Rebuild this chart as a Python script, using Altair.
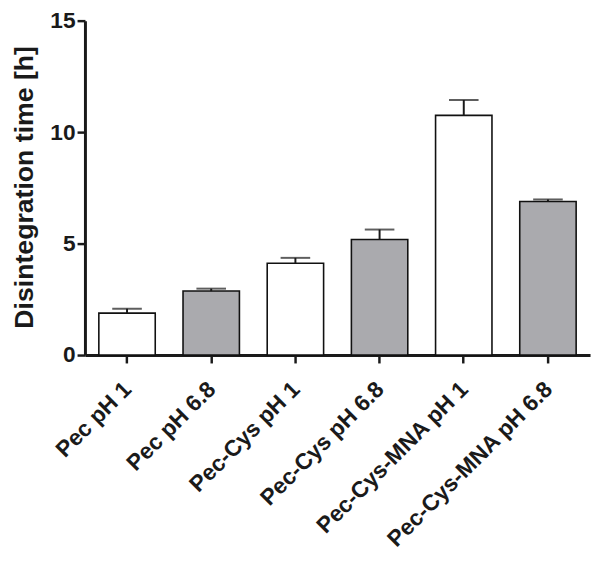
import altair as alt
import pandas as pd

categories = ["Pec pH 1", "Pec pH 6.8", "Pec-Cys pH 1", "Pec-Cys pH 6.8",
              "Pec-Cys-MNA pH 1", "Pec-Cys-MNA pH 6.8"]
means = [1.88, 2.87, 4.12, 5.18, 10.75, 6.89]
errors = [0.20, 0.11, 0.24, 0.45, 0.69, 0.09]
medium = ["pH 1", "pH 6.8", "pH 1", "pH 6.8", "pH 1", "pH 6.8"]

df = pd.DataFrame({
    "cat": categories,
    "mean": means,
    "upper": [m + e for m, e in zip(means, errors)],
    "medium": medium,
})

FONT = "Liberation Sans"
INK = "#1a1a1a"

x = alt.X("cat:N", sort=categories, title=None,
          scale=alt.Scale(paddingInner=0.33, paddingOuter=0.165),
          axis=alt.Axis(labelAngle=-45, labelAlign="right", labelBaseline="top",
                        labelFont=FONT, labelFontSize=23, labelFontWeight="bold",
                        labelColor=INK, labelPadding=15, labelOffset=-7, labelLimit=0,
                        tickSize=8, tickWidth=2.5, tickColor=INK,
                        domainWidth=3, domainColor=INK, grid=False))

y_scale = alt.Scale(domain=[0, 15], nice=False)

bars = alt.Chart(df).mark_bar(stroke="#111111", strokeWidth=1.6).encode(
    x=x,
    y=alt.Y("mean:Q", scale=y_scale, title="Disintegration time [h]",
            axis=alt.Axis(values=[0, 5, 10, 15], tickSize=8, tickWidth=2.5,
                          tickColor=INK, domainWidth=3, domainColor=INK,
                          labelFont=FONT, labelFontSize=23, labelFontWeight="bold",
                          labelColor=INK, labelPadding=2, grid=False,
                          titleFont=FONT, titleFontSize=27, titleFontWeight="bold",
                          titleColor=INK, titleX=-53.5, titleY=168.5,
                          titleAngle=270, titleBaseline="alphabetic", titleAlign="center")),
    fill=alt.Fill("medium:N", legend=None,
                  scale=alt.Scale(domain=["pH 1", "pH 6.8"],
                                  range=["#ffffff", "#aaaaae"])),
)

err = alt.Chart(df).mark_rule(color=INK, strokeWidth=2).encode(
    x=alt.X("cat:N", sort=categories),
    y=alt.Y("mean:Q", scale=y_scale),
    y2="upper:Q",
)

cap = alt.Chart(df).mark_tick(color=INK, thickness=2, size=30, orient="horizontal").encode(
    x=alt.X("cat:N", sort=categories),
    y=alt.Y("upper:Q", scale=y_scale),
)

chart = alt.layer(bars, err, cap).properties(
    width=512, height=339,
    autosize=alt.AutoSizeParams(type="none"),
    padding={"left": 78, "top": 9, "right": 3, "bottom": 210},
    background="white",
).configure_view(stroke=None)

chart.save("out.html", embed_options={"renderer": "svg", "actions": False})
